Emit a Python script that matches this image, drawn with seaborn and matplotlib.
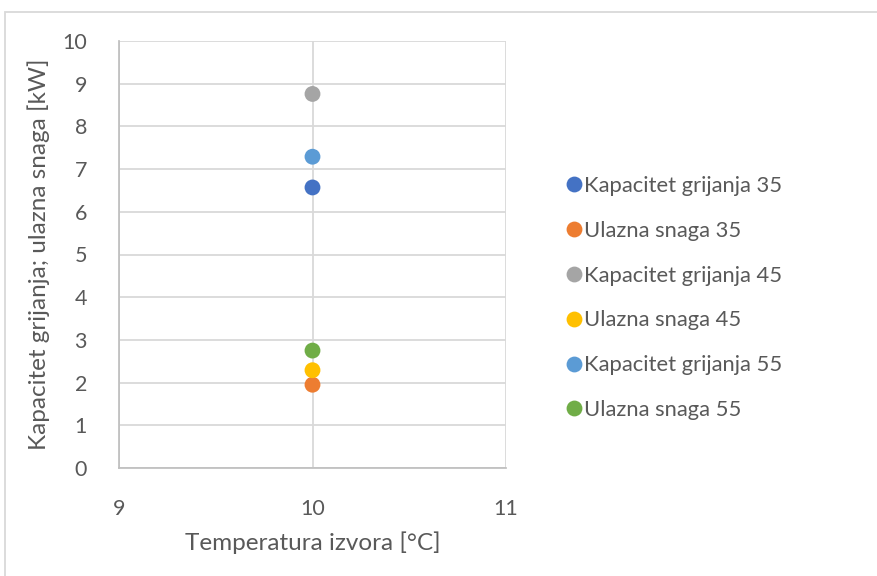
import matplotlib
matplotlib.use("Agg")
import matplotlib.pyplot as plt
import seaborn as sns
import pandas as pd
from matplotlib.patches import Rectangle

series = ["Kapacitet grijanja 35", "Ulazna snaga 35", "Kapacitet grijanja 45",
          "Ulazna snaga 45", "Kapacitet grijanja 55", "Ulazna snaga 55"]
x_vals = [10, 10, 10, 10, 10, 10]
y_vals = [6.57, 1.95, 8.76, 2.29, 7.29, 2.75]
colors = ["#4472C4", "#ED7D31", "#A5A5A5", "#FFC000", "#5B9BD5", "#70AD47"]

df = pd.DataFrame({"series": series, "x": x_vals, "y": y_vals})

sns.set_theme(style="white")
plt.rcParams['font.family'] = ['Lato', 'DejaVu Sans']
text_col = "#595959"
grid_col = "#D9D9D9"

fig = plt.figure(figsize=(8.77, 5.76), dpi=100)
ax = fig.add_axes([119/877, 1 - 468/576, (506 - 119)/877, (468 - 41)/576])

sns.scatterplot(data=df, x="x", y="y", hue="series", palette=colors,
                hue_order=series, s=130, edgecolor="none", linewidth=0,
                ax=ax, zorder=3)

ax.set_xlim(9, 11)
ax.set_ylim(0, 10)
ax.set_xticks([9, 10, 11])
ax.set_yticks(range(0, 11))
ax.grid(True, color=grid_col, linewidth=1.3)
ax.set_axisbelow(True)
for sp in ax.spines.values():
    sp.set_visible(False)
ax.spines['left'].set_visible(True)
ax.spines['left'].set_color("#BFBFBF")
ax.spines['bottom'].set_visible(True)
ax.spines['bottom'].set_color("#BFBFBF")
ax.tick_params(axis='both', length=0, labelsize=15.5, colors=text_col)
ax.tick_params(axis='y', pad=23)
ax.tick_params(axis='x', pad=22)
ax.set_xlabel("Temperatura izvora [°C]", fontsize=17.5, color=text_col, labelpad=9)
ax.set_ylabel("Kapacitet grijanja; ulazna snaga [kW]", fontsize=17.5, color=text_col, labelpad=9)

handles, labels = ax.get_legend_handles_labels()
ax.legend(handles, labels, loc="center left", bbox_to_anchor=(553/877, 1 - 298/576),
          bbox_transform=fig.transFigure, frameon=False, fontsize=15.8,
          labelcolor=text_col, handletextpad=-0.1, labelspacing=1.13,
          markerscale=1.0, borderaxespad=0, handlelength=1.1)

fig.patches.append(Rectangle((5/877, -0.05), 1.0, 1 - 12/576 + 0.05,
                             transform=fig.transFigure, fill=False,
                             edgecolor="#D9D9D9", linewidth=1.3))

fig.savefig("out.png", dpi=100, facecolor="white")
